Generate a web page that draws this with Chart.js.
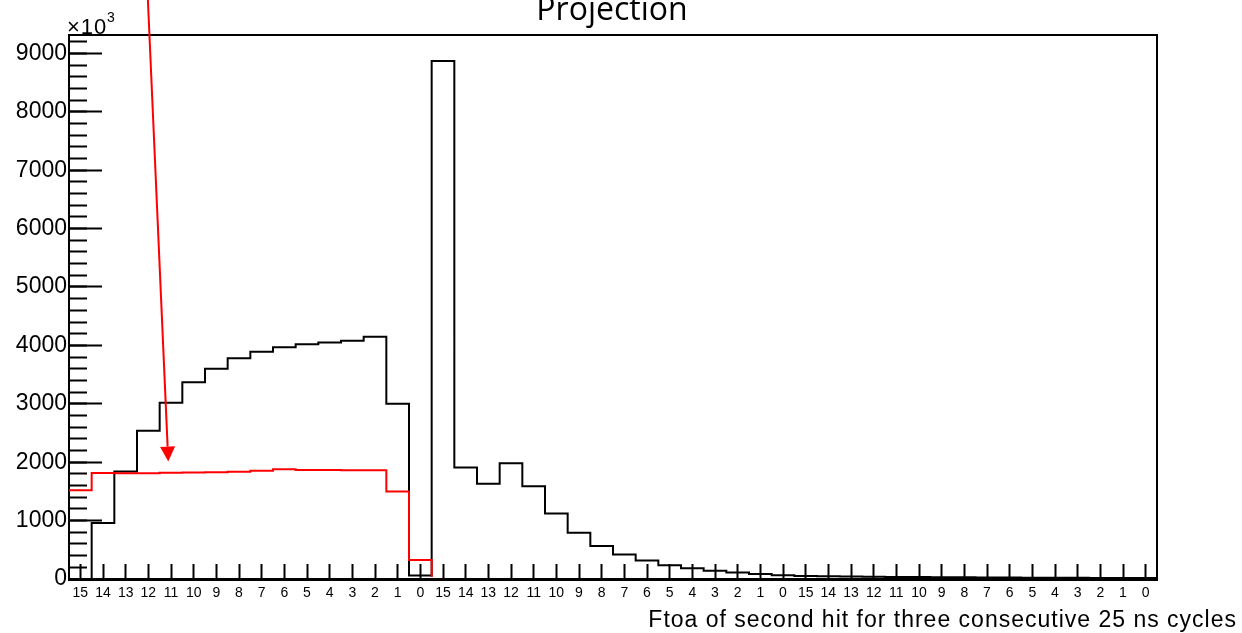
<!DOCTYPE html>
<html lang="en">
<head>
<meta charset="UTF-8">
<title>Projection</title>
<script src="https://cdn.jsdelivr.net/npm/chart.js"></script>
<style>
  html, body { margin: 0; padding: 0; background: #fff; }
  canvas { display: block; }
</style>
</head>
<body>
<canvas id="proj" width="1242" height="633"></canvas>
<script>
// Ftoa bin labels, 16 bins per 25 ns cycle, three cycles
var cycleLabels = ['15','14','13','12','11','10','9','8','7','6','5','4','3','2','1','0'];
var binLabels = cycleLabels.concat(cycleLabels, cycleLabels);

// black histogram (counts, in units of 10^3)
var blackCounts = [
    0, 960, 1840, 2540, 3020, 3370, 3600, 3780, 3890, 3970, 4020, 4050, 4080, 4150, 3000, 60,
    8870, 1910, 1630, 1980, 1590, 1120, 790, 565, 420, 315, 235, 185, 140, 110, 85, 65,
    50, 45, 42, 38, 35, 33, 30, 28, 26, 25, 23, 22, 20, 19, 18, 17
];

// red histogram
var redCounts = [
    1520, 1815, 1810, 1810, 1820, 1822, 1826, 1838, 1855, 1878, 1866, 1866, 1861, 1861, 1500, 325,
    0, 0, 0, 0, 0, 0, 0, 0, 0, 0, 0, 0, 0, 0, 0, 0,
    0, 0, 0, 0, 0, 0, 0, 0, 0, 0, 0, 0, 0, 0, 0, 0
];

var yMax = 9315;
var yMajorTicks = [0, 1000, 2000, 3000, 4000, 5000, 6000, 7000, 8000, 9000];
var yMinorStep = 200;

// arrow annotation, in data units [bin, counts]
var arrowFrom = [3.48, 9920];
var arrowTo = [4.38, 2010];

// histogram outline: one point per bin edge
function histPoints(counts) {
    var pts = counts.map(function (v, i) { return { x: i, y: v }; });
    pts.push({ x: counts.length, y: counts[counts.length - 1] });
    return pts;
}

var binCenters = binLabels.map(function (l, i) { return i + 0.5; });

// no extra room for labels, the plot frame is placed by layout.padding
function noPad(scale) {
    scale.paddingTop = 0;
    scale.paddingBottom = 0;
    scale.paddingLeft = 0;
    scale.paddingRight = 0;
}

var frameAndText = {
    id: 'frameAndText',
    afterDraw: function (chart) {
        var ctx = chart.ctx;
        var a = chart.chartArea;
        var xs = chart.scales.x, ys = chart.scales.y;
        ctx.save();
        // frame
        ctx.strokeStyle = '#000';
        ctx.lineWidth = 2;
        ctx.beginPath();
        ctx.moveTo(a.left, a.top);
        ctx.lineTo(a.right, a.top);
        ctx.lineTo(a.right, a.bottom);
        ctx.stroke();

        // arrow
        var x1 = xs.getPixelForValue(arrowFrom[0]), y1 = ys.getPixelForValue(arrowFrom[1]);
        var x2 = xs.getPixelForValue(arrowTo[0]), y2 = ys.getPixelForValue(arrowTo[1]);
        var ang = Math.atan2(y2 - y1, x2 - x1);
        var head = 15, half = 7.5;
        var bx = x2 - head * Math.cos(ang), by = y2 - head * Math.sin(ang);
        ctx.strokeStyle = '#ff0000';
        ctx.fillStyle = '#ff0000';
        ctx.lineWidth = 2;
        ctx.beginPath();
        ctx.moveTo(x1, y1);
        ctx.lineTo(bx, by);
        ctx.stroke();
        ctx.beginPath();
        ctx.moveTo(x2, y2);
        ctx.lineTo(bx + half * Math.sin(ang), by - half * Math.cos(ang));
        ctx.lineTo(bx - half * Math.sin(ang), by + half * Math.cos(ang));
        ctx.closePath();
        ctx.fill();

        // title
        ctx.fillStyle = '#000';
        ctx.textAlign = 'center';
        ctx.textBaseline = 'alphabetic';
        ctx.font = '32px "Open Sans"';
        ctx.fillText('Projection', 612, 20);

        // x axis title
        ctx.textAlign = 'right';
        ctx.font = '23px "Liberation Sans"';
        ctx.letterSpacing = '1px';
        ctx.fillText('Ftoa of second hit for three consecutive 25 ns cycles', 1237, 627);

        // exponent
        ctx.textAlign = 'left';
        ctx.font = '22px "Liberation Sans"';
        ctx.fillText('\u00d710', 67, 34);
        ctx.letterSpacing = '0px';
        ctx.font = '14px "Liberation Sans"';
        ctx.fillText('3', 107, 22);
        ctx.restore();
    }
};

new Chart(document.getElementById('proj'), {
    type: 'line',
    data: {
        datasets: [
            {
                label: 'red',
                data: histPoints(redCounts),
                borderColor: '#ff0000',
                borderWidth: 2,
                stepped: 'before',
                pointRadius: 0,
                fill: false,
                // the zero part runs under the x axis
                clip: { left: 0, top: 0, right: 0, bottom: -2 }
            },
            {
                label: 'black',
                data: histPoints(blackCounts),
                borderColor: '#000000',
                borderWidth: 2,
                stepped: 'before',
                pointRadius: 0,
                fill: false
            }
        ]
    },
    options: {
        responsive: false,
        animation: false,
        devicePixelRatio: 1,
        layout: { padding: { top: 35, right: 85, left: 0, bottom: 0 } },
        plugins: {
            legend: { display: false },
            tooltip: { enabled: false },
            title: { display: false }
        },
        scales: {
            x: {
                type: 'linear',
                min: 0,
                max: binLabels.length,
                z: 1,
                afterBuildTicks: function (scale) {
                    scale.ticks = binCenters.map(function (v) { return { value: v }; });
                },
                afterFit: function (scale) { scale.height = 54; noPad(scale); },
                ticks: {
                    autoSkip: false,
                    maxRotation: 0,
                    padding: 21,
                    color: '#000',
                    font: { family: 'Liberation Sans', size: 14 },
                    callback: function (v) { return binLabels[Math.floor(v)]; }
                },
                grid: {
                    drawOnChartArea: false,
                    tickLength: -15,
                    tickWidth: 2,
                    color: '#000'
                },
                border: { color: '#000', width: 3 }
            },
            y: {
                type: 'linear',
                position: 'left',
                weight: 1,
                min: 0,
                max: yMax,
                z: 1,
                afterBuildTicks: function (scale) {
                    scale.ticks = yMajorTicks.map(function (v) { return { value: v }; });
                },
                afterFit: function (scale) { scale.width = 69; noPad(scale); },
                ticks: {
                    padding: 35,
                    color: '#000',
                    font: { family: 'Liberation Sans', size: 23 },
                    callback: function (v) { return String(v); }
                },
                grid: {
                    drawOnChartArea: false,
                    tickLength: -33,
                    tickWidth: 2,
                    color: '#000'
                },
                border: { color: '#000', width: 2 }
            },
            yMinor: {
                type: 'linear',
                position: 'left',
                weight: 0,
                min: 0,
                max: yMax,
                z: 1,
                afterBuildTicks: function (scale) {
                    var t = [];
                    for (var v = 0; v <= yMax; v += yMinorStep) t.push({ value: v });
                    scale.ticks = t;
                },
                afterFit: function (scale) { scale.width = 0; noPad(scale); },
                ticks: { display: false },
                grid: {
                    drawOnChartArea: false,
                    tickLength: -18,
                    tickWidth: 2,
                    color: '#000'
                },
                border: { display: false }
            }
        }
    },
    plugins: [frameAndText]
});
</script>
</body>
</html>
